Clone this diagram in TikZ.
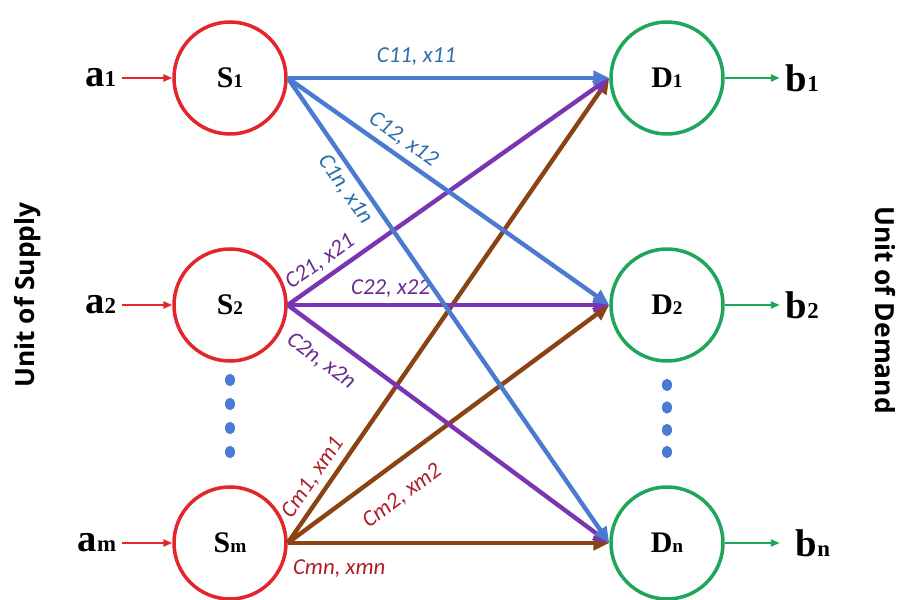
\documentclass[tikz,border=0pt]{standalone}
\usepackage{fontspec}
\setmainfont{Liberation Serif}
\newfontfamily\lblfont{Carlito}
\newfontfamily\sidefont{Open Sans}
\usepackage{tikz}
\usetikzlibrary{positioning,calc,arrows.meta,shapes.geometric}
\usepackage{xcolor}
\definecolor{srcred}{HTML}{E3262B}
\definecolor{dstgreen}{HTML}{1EA75A}
\definecolor{flowblue}{HTML}{4A7BD0}
\definecolor{flowpurple}{HTML}{7B35B0}
\definecolor{flowbrown}{HTML}{8B4214}
\definecolor{lblblue}{HTML}{2D6EAA}
\definecolor{lblpurple}{HTML}{6A2C91}
\definecolor{lblred}{HTML}{B01E2E}
\newcommand{\ndlab}[2]{\textbf{#1}{\fontsize{11}{12}\selectfont\bfseries #2}}
\newcommand{\amt}[2]{{\fontsize{22}{24}\selectfont\bfseries #1}{\fontsize{13}{14}\selectfont\bfseries #2}}

\begin{document}
\begin{tikzpicture}[scale=1,
    src/.style={circle,draw=srcred,line width=2pt,minimum size=2.24cm,inner sep=0pt,font=\fontsize{17}{19}\selectfont},
    dst/.style={circle,draw=dstgreen,line width=2pt,minimum size=2.24cm,inner sep=0pt,font=\fontsize{17}{19}\selectfont},
    flow/.style={line width=2.5pt,-{Triangle[length=9pt,width=8pt]}},
    feed/.style={line width=1.1pt,-{Triangle[length=5pt,width=4pt]}},
    cost/.style={font=\lblfont\itshape\fontsize{13}{14}\selectfont,sloped,inner sep=3pt},
    dot/.style={ellipse,fill=flowblue,minimum width=0.2cm,minimum height=0.25cm,inner sep=0pt}]

\useasboundingbox (0,0) rectangle (17.94,12);

\node[src] (s1) at (4.6,10.44) {\ndlab{S}{1}};
\node[src] (s2) at (4.6,5.9) {\ndlab{S}{2}};
\node[src] (sm) at (4.6,1.14) {\ndlab{S}{m}};

\node[dst] (d1) at (13.34,10.44) {\ndlab{D}{1}};
\node[dst] (d2) at (13.34,5.9) {\ndlab{D}{2}};
\node[dst] (dn) at (13.34,1.14) {\ndlab{D}{n}};

% supplies and demands
\node[left=1.0cm of s1] (a1) {\amt{a}{1}};
\node[left=1.0cm of s2] (a2) {\amt{a}{2}};
\node[left=1.0cm of sm] (am) {\amt{a}{m}};
\draw[feed,srcred] (a1) -- (s1);
\draw[feed,srcred] (a2) -- (s2);
\draw[feed,srcred] (am) -- (sm);

\node[right=1.1cm of d1] (b1) {\amt{b}{1}};
\node[right=1.1cm of d2] (b2) {\amt{b}{2}};
\node[right=1.3cm of dn] (bn) {\amt{b}{n}};
\draw[feed,dstgreen] (d1) -- (b1.west -| {$(d1.east)+(1.1,0)$});
\draw[feed,dstgreen] (d2) -- (b2.west -| {$(d2.east)+(1.1,0)$});
\draw[feed,dstgreen] (dn) -- (bn.west -| {$(dn.east)+(1.1,0)$});

% dots
\foreach \y [count=\i] in {4.4,3.92,3.44,2.96}
  \node[dot] (ldot\i) at (4.6,\y) {};
\foreach \y [count=\i] in {4.3,3.85,3.4,2.96}
  \node[dot] (rdot\i) at (13.34,\y) {};

% routes
\draw[flow,flowbrown] (sm.east) -- (d1.west) node[cost,lblred,above,pos=0.12] {Cm1, xm1};
\draw[flow,flowbrown] (sm.east) -- (d2.west) node[cost,lblred,below=8pt,pos=0.3] {Cm2, xm2};
\draw[flow,flowbrown] (sm.east) -- (dn.west) node[cost,lblred,below=5pt,pos=0.16] {Cmn, xmn};

\draw[flow,flowpurple] (s2.east) -- (d1.west) node[cost,lblpurple,above,pos=0.13] {C21, x21};
\draw[flow,flowpurple] (s2.east) -- (d2.west) node[cost,lblpurple,above,pos=0.32] {C22, x22};
\draw[flow,flowpurple] (s2.east) -- (dn.west) node[cost,lblpurple,below=5pt,pos=0.15] {C2n, x2n};

\draw[flow,flowblue] (s1.east) -- (d1.west) node[cost,lblblue,above=3pt,pos=0.4] {C11, x11};
\draw[flow,flowblue] (s1.east) -- (d2.west) node[cost,lblblue,above,pos=0.33] {C12, x12};
\draw[flow,flowblue] (s1.east) -- (dn.west) node[cost,lblblue,below,pos=0.22] {C1n, x1n};

\node[rotate=90,font=\sidefont\bfseries\fontsize{15}{16}\selectfont] (supply) at (0.56,6.1) {Unit of Supply};
\node[rotate=-90,font=\sidefont\bfseries\fontsize{15}{16}\selectfont] (demand) at (17.7,5.8) {Unit of Demand};

\end{tikzpicture}
\end{document}
